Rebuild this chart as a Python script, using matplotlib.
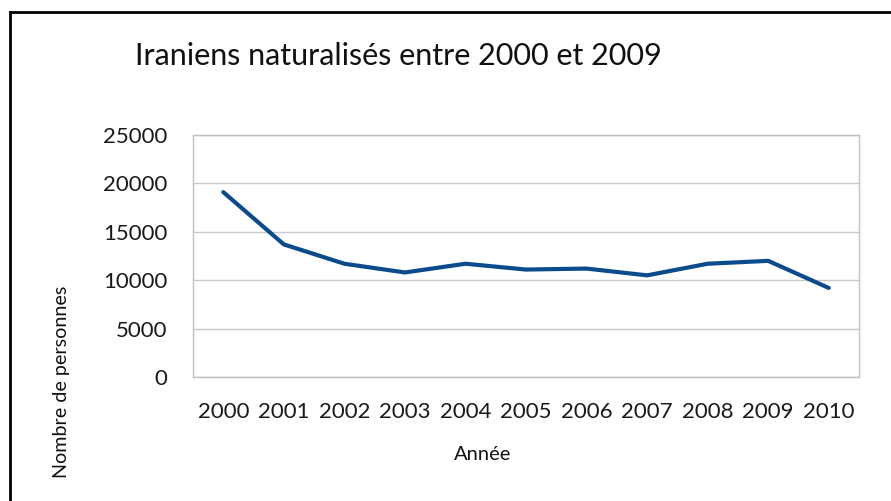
import matplotlib
matplotlib.use("Agg")
import matplotlib.pyplot as plt
from matplotlib.lines import Line2D

years = ["2000", "2001", "2002", "2003", "2004", "2005", "2006", "2007", "2008", "2009", "2010"]
values = [19100, 13700, 11700, 10800, 11700, 11100, 11200, 10500, 11700, 12000, 9200]
yticks = [0, 5000, 10000, 15000, 20000, 25000]

plt.rcParams['font.family'] = ['Lato', 'DejaVu Sans']

fig = plt.figure(figsize=(8.91, 5.01), dpi=100)
ax = fig.add_axes([193/891, 1-377/501, (859-193)/891, (377-135)/501])

x = list(range(len(years)))
ax.plot(x, values, color='#0b4b8c', lw=3.0, solid_capstyle='round', solid_joinstyle='round')
ax.set_xlim(-0.5, len(years)-0.5)
ax.set_ylim(0, 25000)
ax.set_yticks(yticks)
ax.set_yticklabels([str(v) for v in yticks])
ax.set_xticks(x)
ax.set_xticklabels(years)
ax.tick_params(axis='both', length=0, labelsize=16, colors='#1a1a1a')
ax.tick_params(axis='y', pad=18.5)
ax.tick_params(axis='x', pad=18)
ax.grid(axis='y', color='#c8c8c8', lw=1)
ax.set_axisbelow(True)
for s in ax.spines.values():
    s.set_color('#c0c0c0')
    s.set_linewidth(1)

fig.text(135/891, 1-56/501, "Iraniens naturalisés entre 2000 et 2009", fontsize=22,
         ha='left', va='center', color='#111111')
fig.text(62/891, 1-382/501, "Nombre de personnes", rotation=90, fontsize=14.2,
         ha='center', va='center', color='#111111')
fig.text(483/891, 1-454/501, "Année", fontsize=14.5, ha='center', va='center', color='#111111')

# outer frame (top and left)
fig.add_artist(Line2D([10/891, 10/891], [0, 1-12/501], transform=fig.transFigure, color='black', lw=2))
fig.add_artist(Line2D([10/891, 1], [1-12/501, 1-12/501], transform=fig.transFigure, color='black', lw=2))

fig.savefig("out.png", dpi=100)
